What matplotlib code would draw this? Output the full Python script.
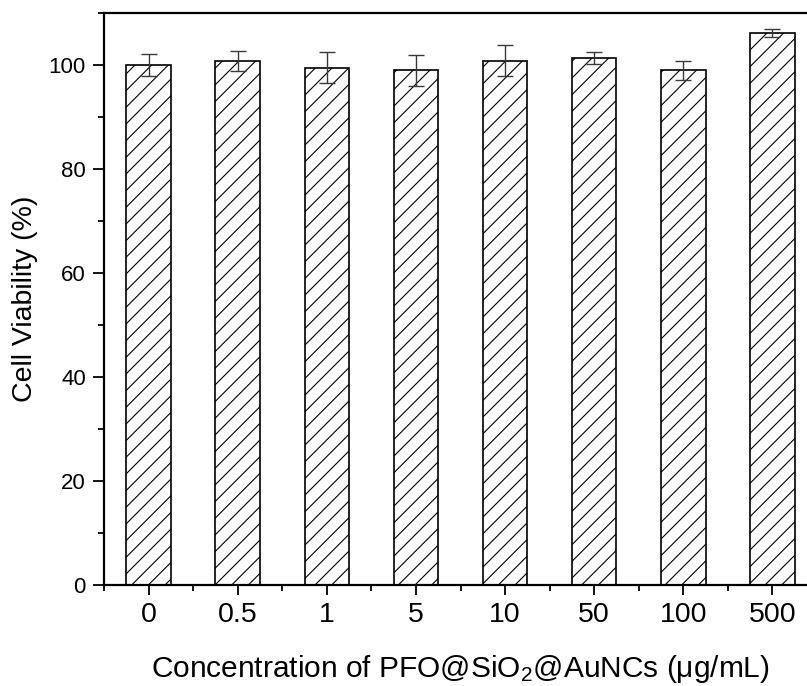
import matplotlib
matplotlib.use("Agg")
import matplotlib.pyplot as plt
from matplotlib.ticker import MultipleLocator, FixedLocator

plt.rcParams['font.family'] = ['Liberation Sans', 'DejaVu Sans']
plt.rcParams['mathtext.fontset'] = 'custom'
plt.rcParams['mathtext.rm'] = 'Liberation Sans'
plt.rcParams['mathtext.it'] = 'Liberation Sans:italic'
plt.rcParams['hatch.linewidth'] = 0.8

categories = ['0', '0.5', '1', '5', '10', '50', '100', '500']
viability = [100.0, 100.7, 99.5, 99.0, 100.8, 101.3, 99.0, 106.2]
errors = [2.2, 1.9, 3.0, 3.0, 3.0, 1.2, 1.8, 0.8]

fig = plt.figure(figsize=(8.07, 6.86), dpi=100)
ax = fig.add_axes([104/807, 101/686, (817-104)/807, (585-13)/686])

x = list(range(len(categories)))
ax.bar(x, viability, width=0.5, color='white', edgecolor='black',
       linewidth=1.2, hatch='//', zorder=2)
ax.errorbar(x, viability, yerr=errors, fmt='none', ecolor='#3a3a3a',
            elinewidth=1.0, capsize=6, capthick=1.0, zorder=3)

ax.set_xlim(-0.5, 7.5)
ax.set_ylim(0, 110)
ax.set_xticks(x)
ax.set_xticklabels(categories, fontsize=20.5)
ax.xaxis.set_minor_locator(FixedLocator([i + 0.5 for i in range(-1, 8)]))
ax.yaxis.set_major_locator(MultipleLocator(20))
ax.yaxis.set_minor_locator(MultipleLocator(10))
ax.tick_params(axis='y', which='major', direction='out', length=8, width=1.3,
               labelsize=16, pad=5)
ax.tick_params(axis='y', which='minor', direction='out', length=4.5, width=1.3)
ax.tick_params(axis='x', which='major', direction='out', length=7.5, width=1.3,
               pad=5)
ax.tick_params(axis='x', which='minor', direction='out', length=4, width=1.3)

for s in ax.spines.values():
    s.set_linewidth(1.6)

ax.set_ylabel('Cell Viability (%)', fontsize=20.5, labelpad=8)
ax.set_xlabel('Concentration of PFO@SiO$_2$@AuNCs (μg/mL)', fontsize=21.5,
              labelpad=18)

fig.savefig('out.png', dpi=100)
